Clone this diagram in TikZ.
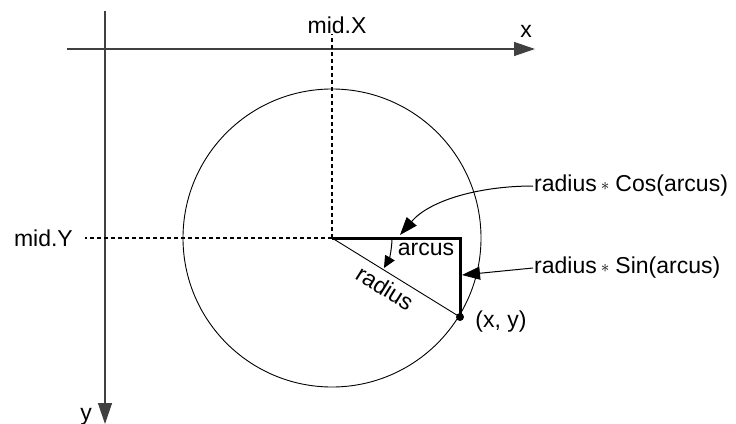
\documentclass[tikz,border=0pt]{standalone}
\usepackage{fontspec}
\setmainfont{Liberation Sans}
\usetikzlibrary{arrows.meta}
\begin{document}
\begin{tikzpicture}[x=1pt,y=-1pt,
  lbl/.style={font=\fontsize{23}{27}\selectfont, inner sep=0pt},
  axisline/.style={draw=black!75, line width=1.3pt},
  bigtip/.style={-{Triangle[length=21pt,width=14pt]}},
  midtip/.style={-{Triangle[length=18pt,width=13pt]}},
  dashline/.style={line width=1.1pt, dash pattern=on 4pt off 3pt},
  heavy/.style={line width=3pt, line join=miter},
  thinline/.style={line width=0.9pt}
]
\useasboundingbox (0,0) rectangle (736,423);
\coordinate (O) at (332,238);
\coordinate (P) at (460,317);
\coordinate (X0) at (67,49);
\coordinate (X1) at (535,49);
\coordinate (Y0) at (105,11);
\coordinate (Y1) at (105,424);
\coordinate (cosT) at (400,235);
\coordinate (sinT) at (462,275);

% axes
\draw[axisline, bigtip] (X0) -- (X1);
\draw[axisline, bigtip] (Y0) -- (Y1);
\node[lbl] (xl) at (526,31.5) {x};
\node[lbl, anchor=base] (yl) at (86,420) {y};

% mid labels and dashed guides
\node[lbl] (midx) at (337,25) {mid.X};
\node[lbl, anchor=east] (midy) at (73,238) {mid.Y};
\draw[dashline] (O) -- (O |- midx.south);
\draw[dashline] (O) -- ([xshift=12pt]midy.east);

% circle
\draw[thinline] (O) circle[radius=149];

% triangle
\draw[thinline] (O) -- (P);
\draw[heavy] (O) -- (P |- O) -- (P);
\fill (P) circle[radius=4];

\node[lbl] (xy) at (501,322) {(x, y)};
\node[lbl, rotate=-32] (rad) at (385,288) {radius};
\node[lbl] (arc) at (426,249) {arcus};
\draw[line width=1pt, -{Triangle[length=12pt,width=11pt]}] ([xshift=60pt]O) arc[start angle=0, end angle=30, radius=60];

% formula labels
\node[lbl, anchor=west] (cos) at (534,186) {radius\hspace{4pt}\raisebox{1pt}{\fontsize{17}{17}\selectfont$\ast$}\hspace{6pt}Cos(arcus)};
\node[lbl, anchor=west] (sin) at (534,268) {radius\hspace{4pt}\raisebox{1pt}{\fontsize{17}{17}\selectfont$\ast$}\hspace{6pt}Sin(arcus)};
\draw[line width=1pt, midtip] ([xshift=-1pt]cos.west) .. controls (480,186) and (430,200) .. (cosT);
\draw[line width=1pt, midtip] ([xshift=-1pt]sin.west) -- (sinT);
\end{tikzpicture}
\end{document}
